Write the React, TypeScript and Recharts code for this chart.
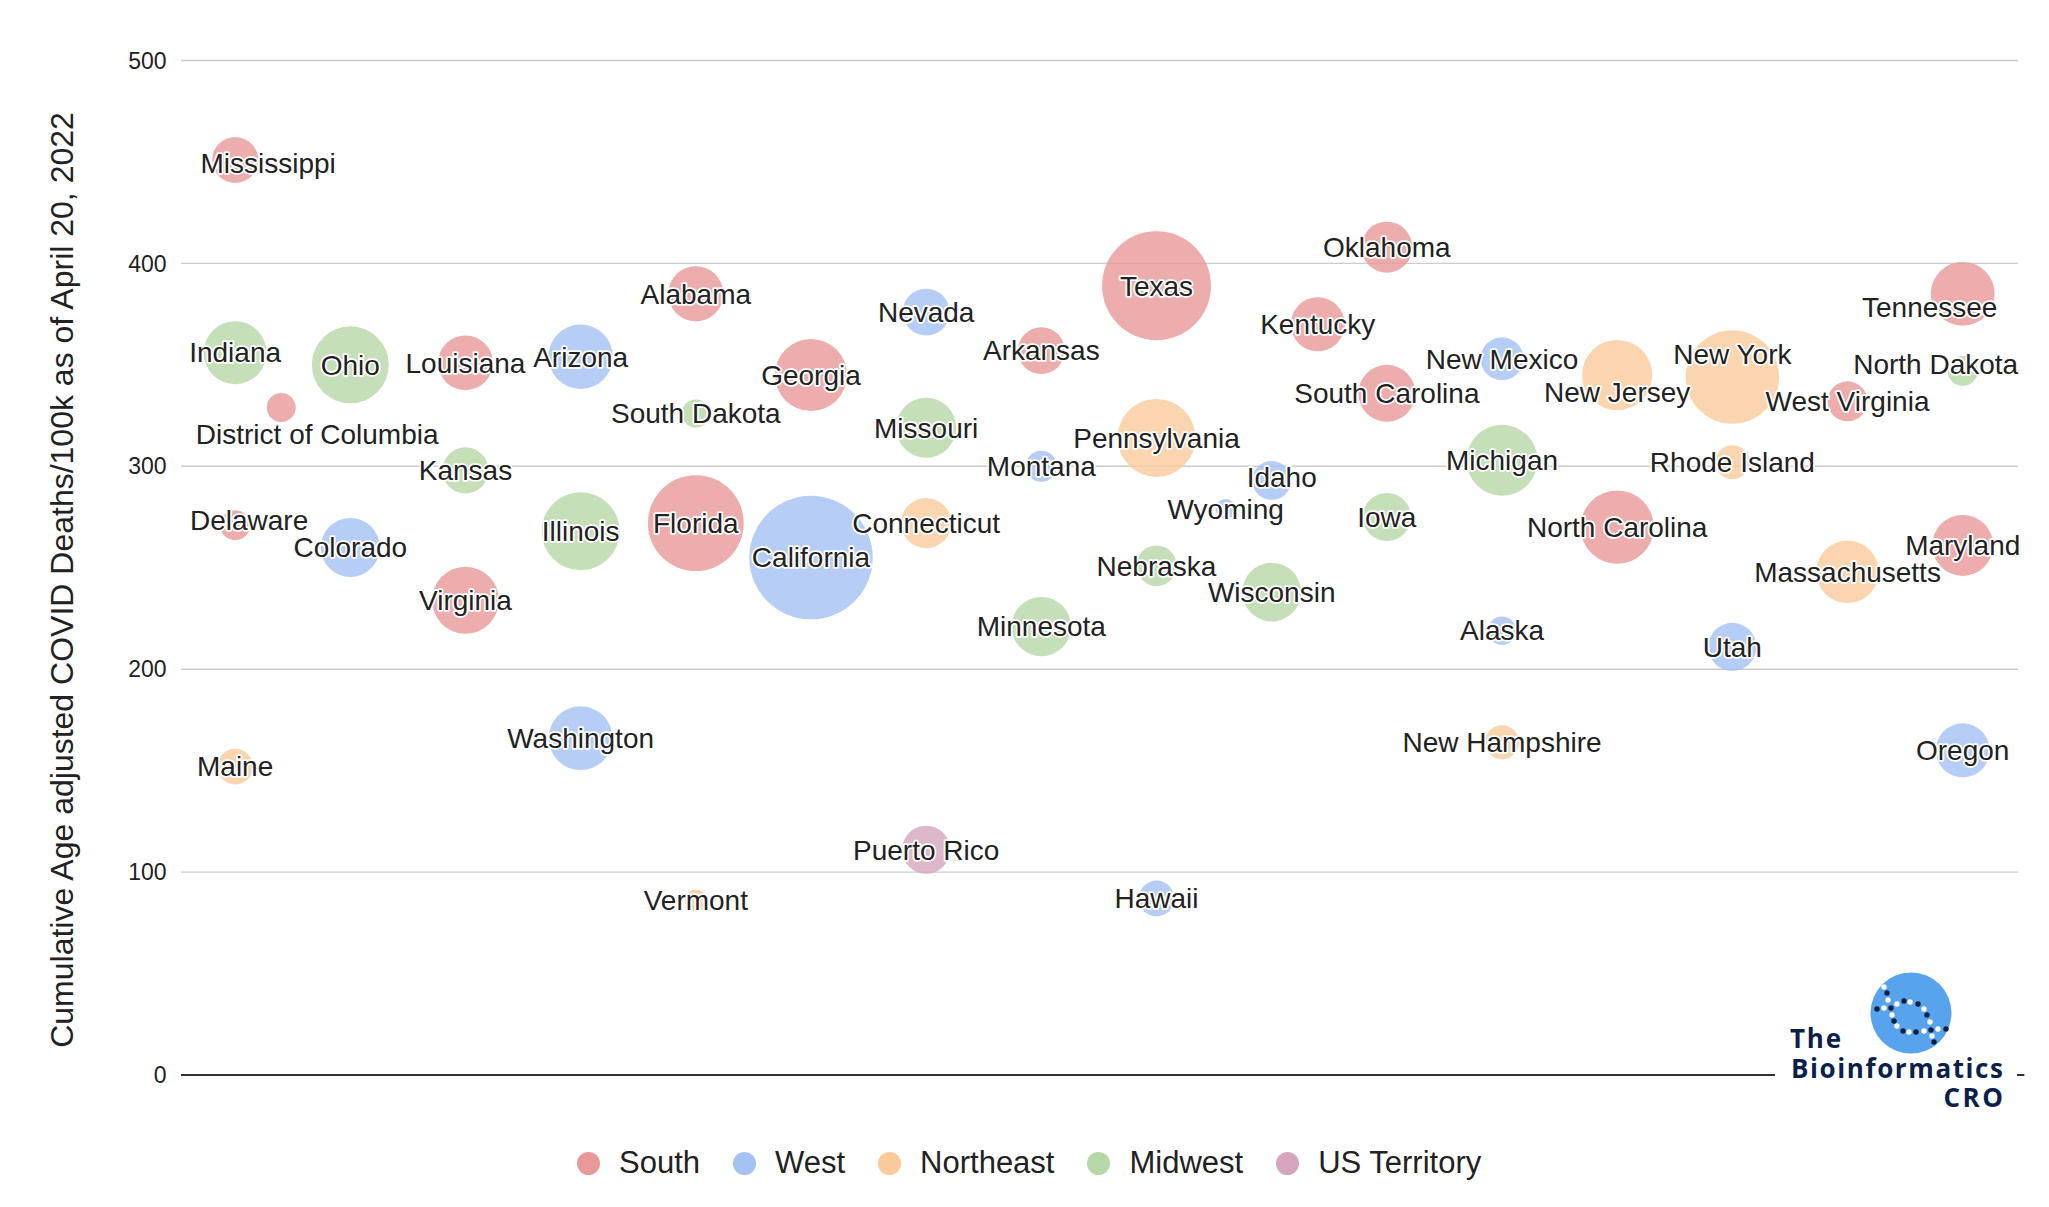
import React from "react";
import {
  CartesianGrid,
  ReferenceLine,
  Scatter,
  ScatterChart,
  XAxis,
  YAxis,
  ZAxis,
} from "recharts";

const FONT = '"Liberation Sans", Arial, sans-serif';

const regions = ["South", "West", "Northeast", "Midwest", "US Territory"];
const regionColors = ["#ea9999", "#a4c2f4", "#f9cb9c", "#b6d7a8", "#d5a6bd"];

const yTicks = [0, 100, 200, 300, 400, 500];

const states = [
  "Mississippi", "Indiana", "Delaware", "Maine", "District of Columbia",
  "Ohio", "Colorado", "Louisiana", "Kansas", "Virginia",
  "Arizona", "Illinois", "Washington", "Alabama", "South Dakota",
  "Florida", "Vermont", "Georgia", "California", "Nevada",
  "Missouri", "Connecticut", "Puerto Rico", "Arkansas", "Montana",
  "Minnesota", "Texas", "Pennsylvania", "Nebraska", "Hawaii",
  "Wyoming", "Idaho", "Wisconsin", "Kentucky", "Oklahoma",
  "South Carolina", "Iowa", "New Mexico", "Michigan", "Alaska",
  "New Hampshire", "New Jersey", "North Carolina", "New York", "Rhode Island",
  "Utah", "West Virginia", "Massachusetts", "Tennessee", "North Dakota",
  "Maryland", "Oregon",
];

// index into regions
const stateRegions = [
  0, 3, 0, 2, 0,
  3, 1, 0, 3, 0,
  1, 3, 1, 0, 3,
  0, 2, 0, 1, 1,
  3, 2, 4, 0, 1,
  3, 0, 2, 3, 1,
  1, 1, 3, 0, 0,
  0, 3, 1, 3, 1,
  2, 2, 0, 2, 2,
  1, 0, 2, 0, 3,
  0, 1,
];

// horizontal slot of each bubble
const columns = [
  0, 0, 0, 0, 0.4,
  1, 1, 2, 2, 2,
  3, 3, 3, 4, 4,
  4, 4, 5, 5, 6,
  6, 6, 6, 7, 7,
  7, 8, 8, 8, 8,
  8.6, 9, 9, 9.4, 10,
  10, 10, 11, 11, 11,
  11, 12, 12, 13, 13,
  13, 14, 14, 15, 15,
  15, 15,
];

// cumulative age adjusted COVID deaths per 100k
const deathRates = [
  451, 356, 271, 152, 329,
  350, 260, 351, 298, 234,
  354, 268, 166, 385, 326,
  272, 86, 345, 255, 376,
  319, 272, 111, 357, 300,
  221, 389, 314, 251, 87,
  279, 293, 238, 370, 408,
  336, 275, 353, 303, 219,
  164, 345, 270, 344, 302,
  211, 332, 248, 385, 347,
  261, 160,
];

// bubble size (area-proportional)
const bubbleSizes = [
  5.3, 9.9, 2.25, 3.2, 2.1,
  14.8, 8.7, 7.5, 5.3, 11.2,
  10.4, 15.2, 10.2, 7.6, 2.0,
  23.0, 1.2, 13.0, 38.1, 5.5,
  9.0, 6.3, 5.8, 5.5, 2.4,
  8.8, 29.7, 15.2, 4.1, 3.2,
  1.0, 3.8, 8.6, 7.3, 6.5,
  8.1, 5.8, 4.6, 12.6, 2.0,
  2.9, 12.3, 13.4, 21.8, 2.9,
  5.8, 4.0, 9.8, 10.2, 2.25,
  9.3, 7.3,
];

// labels nudged away from edges / neighbours (px)
const labelNudge: Record<string, [number, number]> = {
  Mississippi: [33, 3],
  "District of Columbia": [36, 27],
  Delaware: [14, -5],
  Tennessee: [-33, 13],
  "North Dakota": [-27, -7],
  "New York": [0, -23],
  "New Jersey": [0, 17],
  Idaho: [10, -3],
};

const rows = states.map((name, i) => ({
  name,
  region: regions[stateRegions[i]],
  x: columns[i],
  y: deathRates[i],
  z: bubbleSizes[i],
}));

const byRegion = regions.map((region) =>
  rows.filter((r) => r.region === region).sort((a, b) => b.z - a.z)
);

// logo dot offsets from the circle centre
const logoDotsWhite = [
  [-27, -26], [-23, -13], [-27, -5], [-14, -9], [-1, -11], [13, -4],
  [19, 9], [27, 16], [21, 23], [-19, 2], [-14, 13], [-2, 19], [13, 18],
];
const logoDotsNavy = [
  [-24, -20], [-34, -4], [-20, -5], [-7, -12], [7, -9], [16, 2],
  [20, 17], [35, 16], [23, 29], [-17, 8], [-8, 18], [5, 19],
];

const renderLabel = (props: any) => {
  const [dx, dy] = labelNudge[props.payload.name] ?? [0, 0];
  return (
    <text
      x={props.cx + dx}
      y={props.cy + dy}
      dy="0.35em"
      textAnchor="middle"
      fontFamily={FONT}
      fontSize={28}
      fill="#222"
      stroke="#fff"
      strokeWidth={3.5}
      strokeLinejoin="round"
      paintOrder="stroke"
    >
      {props.payload.name}
    </text>
  );
};

const renderYTitle = () => (
  <text
    x={73}
    y={580}
    transform="rotate(-90, 73, 580)"
    textAnchor="middle"
    fontFamily={FONT}
    fontSize={32}
    fill="#222"
  >
    Cumulative Age adjusted COVID Deaths/100k as of April 20, 2022
  </text>
);

function Logo() {
  const cx = 136;
  const cy = 47;
  return (
    <svg
      width={242}
      height={150}
      style={{ position: "absolute", left: 1775, top: 966, background: "#fff" }}
    >
      <circle cx={cx} cy={cy} r={40.5} fill="#58a4ec" />
      {logoDotsWhite.map(([dx, dy], i) => (
        <circle key={`w${i}`} cx={cx + dx} cy={cy + dy} r={2.7} fill="#fff" />
      ))}
      {logoDotsNavy.map(([dx, dy], i) => (
        <circle key={`n${i}`} cx={cx + dx} cy={cy + dy} r={2.7} fill="#0b1f4b" />
      ))}
      <g fontFamily='"Open Sans", sans-serif' fontWeight={700} fontSize={26} fill="#0b1f4b">
        <text x={15} y={82} textLength={51} lengthAdjust="spacing">The</text>
        <text x={16} y={112} textLength={212} lengthAdjust="spacing">Bioinformatics</text>
        <text x={168.5} y={141} textLength={59.5} lengthAdjust="spacing">CRO</text>
      </g>
    </svg>
  );
}

function LegendRow() {
  return (
    <div
      style={{
        position: "absolute",
        left: 577,
        top: 1143,
        height: 40,
        display: "flex",
        alignItems: "center",
        fontFamily: FONT,
        fontSize: 31,
        color: "#222",
        whiteSpace: "nowrap",
      }}
    >
      {regions.map((r, i) => (
        <div key={r} style={{ display: "flex", alignItems: "center", marginRight: 33 }}>
          <span
            style={{
              width: 23,
              height: 23,
              borderRadius: "50%",
              background: regionColors[i],
              marginRight: 19,
              display: "inline-block",
            }}
          />
          <span style={{ lineHeight: "40px" }}>{r}</span>
        </div>
      ))}
    </div>
  );
}

export default function App() {
  return (
    <div
      style={{
        position: "absolute",
        left: 0,
        top: 0,
        width: 2049,
        height: 1207,
        background: "#fff",
        fontFamily: FONT,
      }}
    >
      <ScatterChart
        width={2049}
        height={1207}
        margin={{ top: 60.5, right: 31, bottom: 132, left: 0 }}
      >
        <CartesianGrid vertical={false} stroke="#cccccc" strokeWidth={1.4} />
        <XAxis type="number" dataKey="x" domain={[-0.47, 15.48]} hide />
        <YAxis
          type="number"
          dataKey="y"
          domain={[0, 500]}
          ticks={yTicks}
          width={181}
          axisLine={false}
          tickLine={false}
          tickSize={0}
          tickMargin={14.5}
          tick={{ fontSize: 23, fill: "#222", fontFamily: FONT }}
          label={renderYTitle}
        />
        <ZAxis type="number" dataKey="z" domain={[0, 40]} range={[0, 40 * 100 * Math.PI]} />
        <ReferenceLine
          segment={[
            { x: -0.47, y: 0 },
            { x: 15.535, y: 0 },
          ]}
          ifOverflow="visible"
          stroke="#333"
          strokeWidth={2}
        />
        {regions.map((region, i) => (
          <Scatter
            key={region}
            name={region}
            data={byRegion[i]}
            fill={regionColors[i]}
            fillOpacity={0.8}
            isAnimationActive={false}
          />
        ))}
        <Scatter
          name="labels"
          data={rows}
          shape={renderLabel}
          legendType="none"
          isAnimationActive={false}
        />
      </ScatterChart>
      <LegendRow />
      <Logo />
    </div>
  );
}
